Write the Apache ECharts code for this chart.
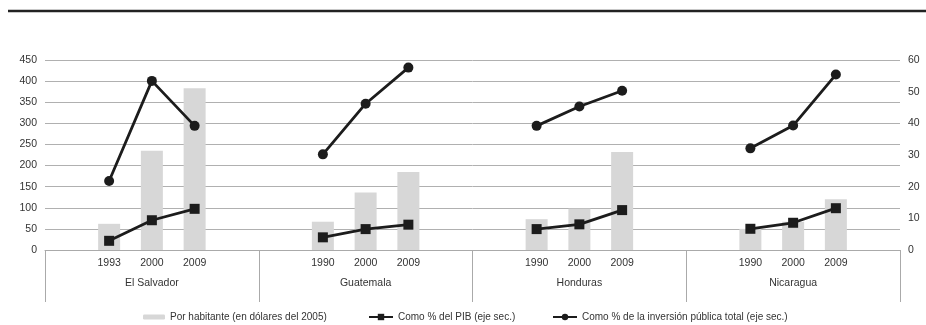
<!DOCTYPE html>
<html><head><meta charset="utf-8">
<script src="https://cdn.jsdelivr.net/npm/echarts@6/dist/echarts.min.js"></script>
<style>html,body{margin:0;padding:0;background:#fff}#c{width:926px;height:325px}</style>
</head><body><div id="c"></div>
<script>
var countries = ['El Salvador', 'Guatemala', 'Honduras', 'Nicaragua'];
var years = ['', '1993', '2000', '2009', '', '', '1990', '2000', '2009', '', '', '1990', '2000', '2009', '', '', '1990', '2000', '2009', ''];
var porHabitante = [null, 62, 235, 383, null, null, 67, 136, 185, null, null, 73, 98, 232, null, null, 50, 67, 120, null];
var pctPIB = [null, 2.9, 9.4, 13.0, null, null, 4.0, 6.6, 8.0, null, null, 6.6, 8.1, 12.6, null, null, 6.7, 8.6, 13.2, null];
var pctInversion = [null, 21.8, 53.4, 39.2, null, null, 30.2, 46.2, 57.6, null, null, 39.2, 45.3, 50.3, null, null, 32.1, 39.3, 55.4, null];
var leftTicks = [0, 450, 50];
var rightTicks = [0, 60, 10];
var names = ['Por habitante (en dólares del 2005)', 'Como % del PIB (eje sec.)', 'Como % de la inversión pública total (eje sec.)'];

var chart = echarts.init(document.getElementById('c'));
var txt = {color: '#333', fontFamily: 'Liberation Sans, Arial, sans-serif', fontSize: 10.5};
var ltxt = {color: '#333', fontFamily: 'Liberation Sans, Arial, sans-serif', fontSize: 10};
chart.setOption({
  animation: false,
  textStyle: {fontFamily: 'Liberation Sans, Arial, sans-serif'},
  grid: {left: 45, right: 26, top: 60, bottom: 75},
  graphic: [{type: 'line', shape: {x1: 8, y1: 11, x2: 926, y2: 11}, style: {stroke: '#222', lineWidth: 2.6}}],
  legend: [
    {left: 143, top: 312, padding: 0, itemWidth: 22, itemHeight: 5, itemGap: 4, data: [names[0]], textStyle: ltxt},
    {left: 368, top: 312, padding: 0, itemWidth: 24, itemHeight: 8, itemGap: 1, data: [names[1]], textStyle: ltxt},
    {left: 552, top: 312, padding: 0, itemWidth: 24, itemHeight: 8, itemGap: 1, data: [names[2]], textStyle: ltxt}
  ],
  xAxis: [
    {type: 'category', data: years, position: 'bottom',
     axisLine: {show: true, lineStyle: {color: '#aaa', width: 1}},
     axisTick: {show: false},
     axisLabel: Object.assign({interval: 0, margin: 8}, txt)},
    {type: 'category', data: countries, position: 'bottom', gridIndex: 0,
     axisLine: {show: false},
     axisTick: {show: true, length: 52, lineStyle: {color: '#aaa'}},
     axisLabel: Object.assign({interval: 0, margin: 28}, txt)}
  ],
  yAxis: [
    {type: 'value', min: leftTicks[0], max: leftTicks[1], interval: leftTicks[2],
     axisLine: {show: false}, axisTick: {show: false},
     axisLabel: Object.assign({margin: 8}, txt),
     splitLine: {lineStyle: {color: '#b0b0b0', width: 1}}},
    {type: 'value', min: rightTicks[0], max: rightTicks[1], interval: rightTicks[2], position: 'right',
     axisLine: {show: false}, axisTick: {show: false},
     axisLabel: Object.assign({margin: 8}, txt),
     splitLine: {show: false}}
  ],
  series: [
    {name: names[0], type: 'bar', data: porHabitante, barWidth: 22, xAxisIndex: 0, yAxisIndex: 0,
     itemStyle: {color: '#d7d7d7'}},
    {name: names[1], type: 'line', data: pctPIB, xAxisIndex: 0, yAxisIndex: 1, connectNulls: false,
     symbol: 'rect', symbolSize: 10, lineStyle: {color: '#1c1c1c', width: 2.8}, itemStyle: {color: '#1c1c1c'}},
    {name: names[2], type: 'line', data: pctInversion, xAxisIndex: 0, yAxisIndex: 1, connectNulls: false,
     symbol: 'circle', symbolSize: 10, lineStyle: {color: '#1c1c1c', width: 2.8}, itemStyle: {color: '#1c1c1c'}}
  ]
});
</script></body></html>
